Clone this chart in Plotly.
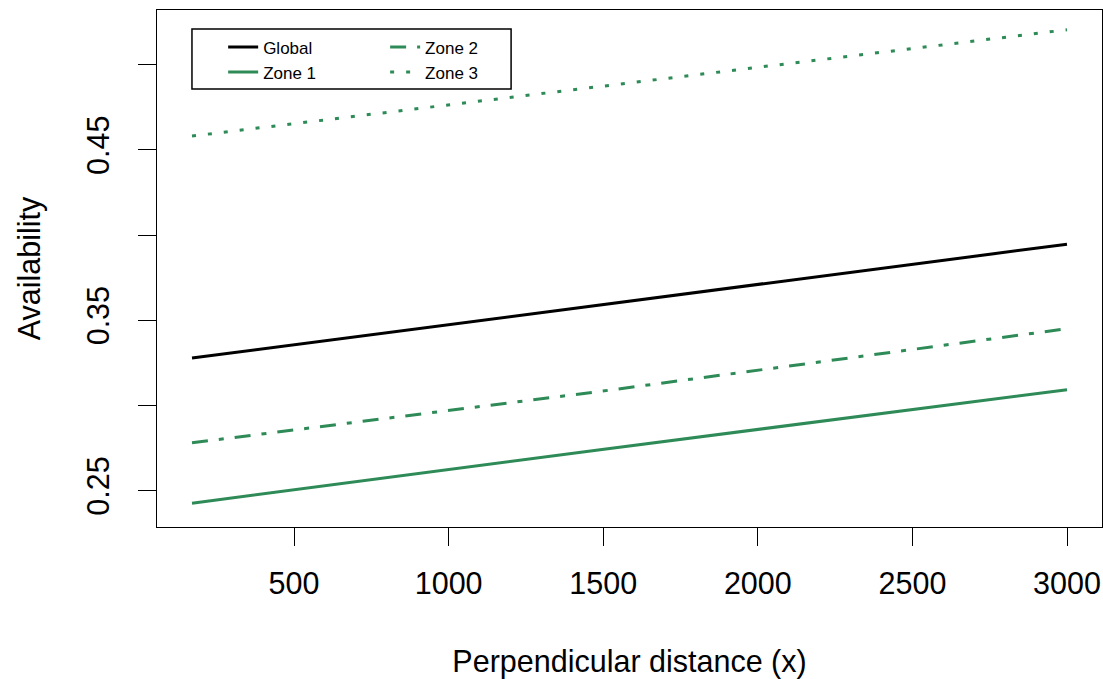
import plotly.graph_objects as go

# Data
distance = [170, 1490, 3000]
global_avail = [0.3278, 0.3590, 0.3946]
zone1_avail = [0.2426, 0.2740, 0.3092]
zone2_avail = [0.2780, 0.3082, 0.3450]
zone3_avail = [0.4581, 0.4873, 0.5205]

x_ticks = [500, 1000, 1500, 2000, 2500, 3000]
y_ticks = [0.25, 0.30, 0.35, 0.40, 0.45, 0.50]
y_ticktext = ["0.25", "", "0.35", "", "0.45", ""]

GREEN = "#2E8B57"
FONT = "Liberation Sans, Arial, sans-serif"

fig = go.Figure()
fig.add_trace(go.Scatter(x=distance, y=global_avail, mode="lines", name="Global",
                         line=dict(color="black", width=3), legend="legend"))
fig.add_trace(go.Scatter(x=distance, y=zone1_avail, mode="lines", name="Zone 1",
                         line=dict(color=GREEN, width=3), legend="legend"))
fig.add_trace(go.Scatter(x=distance, y=zone2_avail, mode="lines", name="Zone 2",
                         line=dict(color=GREEN, width=3, dash="16px,11px,5px,11px"),
                         legend="legend2"))
fig.add_trace(go.Scatter(x=distance, y=zone3_avail, mode="lines", name="Zone 3",
                         line=dict(color=GREEN, width=3, dash="4px,12px"),
                         legend="legend2"))

axis_common = dict(
    showline=True, mirror=True, linecolor="black", linewidth=1.3,
    ticks="outside", ticklen=18, tickwidth=1.3, tickcolor="black",
    showgrid=False, zeroline=False, automargin=False,
    tickfont=dict(family=FONT, size=30.5, color="black"),
)

legend_common = dict(
    orientation="v", xanchor="left", yanchor="top",
    bgcolor="rgba(0,0,0,0)", borderwidth=0,
    font=dict(family=FONT, size=17, color="black"),
    traceorder="normal",
)

fig.update_layout(
    width=1103, height=679,
    margin=dict(l=157, r=1.3, t=10, b=151.5, autoexpand=False),
    paper_bgcolor="white", plot_bgcolor="white",
    xaxis=dict(range=[56.8, 3113.2], tickvals=x_ticks,
               ticklabelstandoff=11,
               title=dict(text="Perpendicular distance (x)",
                          font=dict(family=FONT, size=30.5, color="black"),
                          standoff=53),
               **axis_common),
    yaxis=dict(range=[0.2286, 0.5321], tickvals=y_ticks, ticktext=y_ticktext,
               tickangle=-90, ticklabelstandoff=17,
               title=dict(text="Availability",
                          font=dict(family=FONT, size=30.5, color="black"),
                          standoff=30),
               **axis_common),
    legend=dict(x=0.0700, y=0.9625, **legend_common),
    legend2=dict(x=0.2414, y=0.9625, **legend_common),
    shapes=[dict(type="rect", xref="paper", yref="paper",
                 x0=0.0370, x1=0.3747, y0=0.8473, y1=0.9633,
                 line=dict(color="black", width=1.5), fillcolor="rgba(0,0,0,0)")],
)

fig.write_html("out.html", config={"displayModeBar": False},
               post_script="document.body.style.margin='0';")
